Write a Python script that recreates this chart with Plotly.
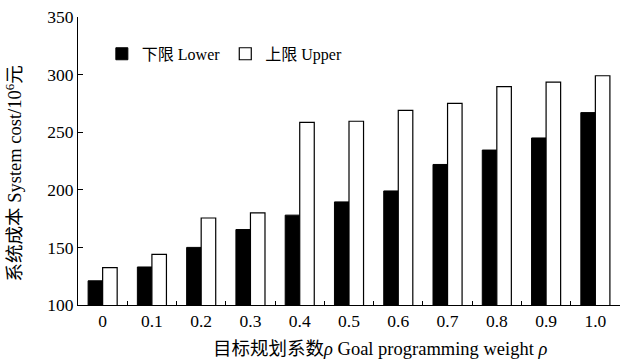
import plotly.graph_objects as go

categories = ["0", "0.1", "0.2", "0.3", "0.4", "0.5", "0.6", "0.7", "0.8", "0.9", "1.0"]
lower = [121, 133, 150, 165.5, 178, 189.5, 199, 222, 234.5, 245, 267]
upper = [132.5, 144, 175.5, 180, 258.5, 259.5, 269, 275, 289.5, 293.5, 299]
y_ticks = [100, 150, 200, 250, 300, 350]
x_title = "目标规划系数<i>ρ</i> Goal programming weight <i>ρ</i>"
y_title = "系统成本 System cost/10<sup>6</sup>元"

FONT = "Liberation Serif, Times New Roman, Noto Sans CJK SC, serif"

fig = go.Figure()
fig.add_trace(go.Bar(x=categories, y=lower, name="下限 Lower",
                     marker=dict(color="black", line=dict(color="black", width=1))))
fig.add_trace(go.Bar(x=categories, y=upper, name="上限 Upper",
                     marker=dict(color="white", line=dict(color="black", width=1.2))))

fig.update_layout(
    width=626, height=361,
    margin=dict(l=78, r=6, t=17, b=56),
    paper_bgcolor="white", plot_bgcolor="white",
    barmode="group", bargap=0.41, bargroupgap=0,
    font=dict(family=FONT, size=17, color="black"),
    legend=dict(orientation="h", x=0.044, y=0.872, xanchor="left", yanchor="middle",
                font=dict(size=16), bgcolor="rgba(0,0,0,0)", itemwidth=30,
                tracegroupgap=0),
    showlegend=True,
    annotations=[
        dict(text=x_title, xref="paper", yref="paper", x=0.557, y=-0.153,
             xanchor="center", yanchor="middle", showarrow=False, font=dict(size=18.5)),
        dict(text=y_title, xref="paper", yref="paper", x=-0.118, y=0.457, textangle=-90,
             xanchor="center", yanchor="middle", showarrow=False, font=dict(size=18.5)),
    ],
)
fig.update_xaxes(
    type="category", range=[-0.5, 10.5], automargin=False,
    showline=True, linecolor="black", linewidth=1.2,
    ticks="inside", tickson="boundaries", ticklen=4, tickcolor="black",
    showgrid=False, tickfont=dict(size=17.5), ticklabeloverflow="allow",
)
fig.update_yaxes(
    range=[100, 350], tickvals=y_ticks, automargin=False,
    showline=True, linecolor="black", linewidth=1.2,
    ticks="inside", ticklen=5, tickcolor="black",
    showgrid=False, zeroline=False, tickfont=dict(size=17.5), ticklabeloverflow="allow",
)

# remove the default 8px body margin so the figure fills the window
fig.write_html("out.html", config={"displayModeBar": False},
               post_script="document.body.style.margin='0';document.body.style.overflow='hidden';")
